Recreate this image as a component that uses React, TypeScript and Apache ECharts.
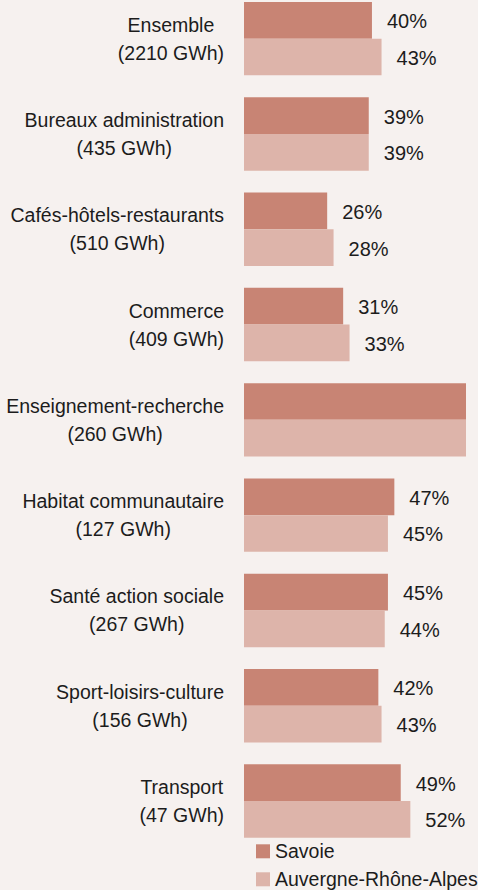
import React, { useEffect, useRef } from "react";
import * as echarts from "echarts";

const categories = [
  "Ensemble",
  "Bureaux administration",
  "Cafés-hôtels-restaurants",
  "Commerce",
  "Enseignement-recherche",
  "Habitat communautaire",
  "Santé action sociale",
  "Sport-loisirs-culture",
  "Transport",
];
const consumptionGWh = [2210, 435, 510, 409, 260, 127, 267, 156, 47];
const savoie = [40, 39, 26, 31, 75, 47, 45, 42, 49];
const auvergneRhoneAlpes = [43, 39, 28, 33, 75, 45, 44, 43, 52];
const seriesNames = ["Savoie", "Auvergne-Rhône-Alpes"];

const AXIS_MAX = 69.4;
const FONT = "'Liberation Sans', Arial, sans-serif";
const TEXT = "#1c1c1c";
const SHIFT = 9; // chart div is moved up by this many pixels

const toData = (arr: number[]) =>
  arr.map((v) => (v > AXIS_MAX ? { value: v, label: { show: false } } : v));

export default function App() {
  const ref = useRef<HTMLDivElement>(null);
  useEffect(() => {
    if (!ref.current) return;
    const chart = echarts.init(ref.current, undefined, { renderer: "svg" });
    const labelCfg = {
      show: true,
      position: "right",
      distance: 15,
      formatter: "{c}%",
      fontFamily: FONT,
      fontSize: 20,
      color: TEXT,
      offset: [0, 1],
    };
    chart.setOption({
      animation: false,
      backgroundColor: "#f6f1ef",
      grid: { left: 244, right: 12, top: 0, bottom: 899 - 857.7, containLabel: false },
      legend: {
        orient: "vertical",
        left: 256,
        top: 840.3 + SHIFT,
        height: 60,
        padding: 0,
        itemWidth: 14,
        itemHeight: 14,
        itemGap: 6,
        icon: "rect",
        data: seriesNames,
        textStyle: { fontFamily: FONT, fontSize: 19.5, lineHeight: 22, color: TEXT },
      },
      xAxis: {
        type: "value",
        min: 0,
        max: AXIS_MAX,
        show: false,
        splitLine: { show: false },
      },
      yAxis: {
        type: "category",
        inverse: true,
        data: categories,
        axisLine: { show: false },
        axisTick: { show: false },
        axisLabel: {
          margin: 20,
          formatter: (value: string, index: number) =>
            `{a|${value}}\n{a|(${consumptionGWh[index]} GWh)}`,
          rich: {
            a: {
              align: "center",
              fontFamily: FONT,
              fontSize: 19.5,
              lineHeight: 28,
              color: TEXT,
            },
          },
        },
      },
      series: [
        {
          name: seriesNames[0],
          type: "bar",
          data: toData(savoie),
          barGap: "0%",
          barCategoryGap: "23%",
          itemStyle: { color: "#c88474" },
          label: labelCfg,
          clip: true,
        },
        {
          name: seriesNames[1],
          type: "bar",
          data: toData(auvergneRhoneAlpes),
          barGap: "0%",
          barCategoryGap: "23%",
          itemStyle: { color: "#ddb4aa" },
          label: labelCfg,
          clip: true,
        },
      ],
    });
    return () => chart.dispose();
  }, []);
  return (
    <div
      ref={ref}
      style={{ position: "absolute", left: 0, top: -SHIFT, width: 478, height: 890 + SHIFT }}
    />
  );
}
